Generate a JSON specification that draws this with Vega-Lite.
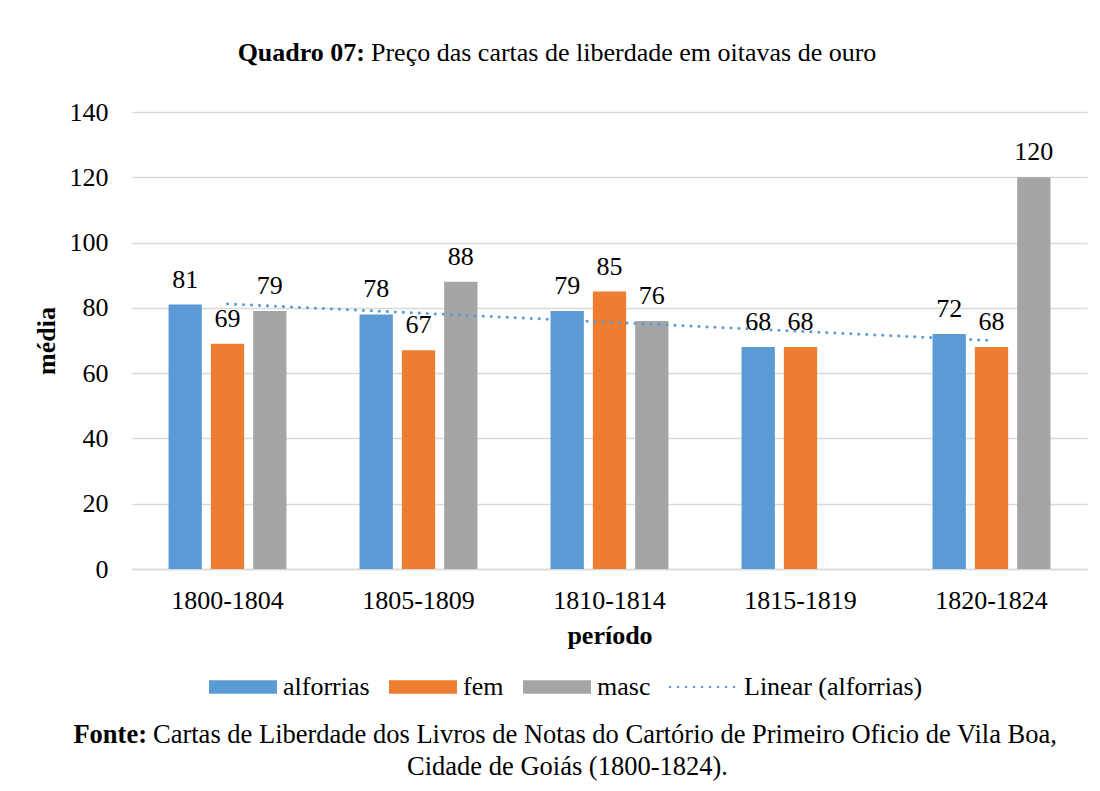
{
  "$schema": "https://vega.github.io/schema/vega-lite/v6.json",
  "background": "white",
  "padding": {"left": 33, "top": 40, "right": 10, "bottom": 5},
  "config": {
    "font": "Liberation Serif",
    "view": {"stroke": null},
    "title": {"font": "Liberation Serif", "fontSize": 26, "fontWeight": "normal", "color": "#000000", "anchor": "middle", "frame": "bounds"},
    "axis": {"labelFontSize": 26, "titleFontSize": 26, "labelColor": "#000000", "titleColor": "#000000", "titleFontWeight": "bold", "titleFont": "Liberation Serif", "labelFont": "Liberation Serif"},
    "legend": {"labelFontSize": 26, "labelColor": "#000000", "labelFont": "Liberation Serif"}
  },
  "datasets": {
    "barras": [
      {"periodo": "1800-1804", "serie": "alforrias", "valor": 81},
      {"periodo": "1800-1804", "serie": "fem", "valor": 69},
      {"periodo": "1800-1804", "serie": "masc", "valor": 79},
      {"periodo": "1805-1809", "serie": "alforrias", "valor": 78},
      {"periodo": "1805-1809", "serie": "fem", "valor": 67},
      {"periodo": "1805-1809", "serie": "masc", "valor": 88},
      {"periodo": "1810-1814", "serie": "alforrias", "valor": 79},
      {"periodo": "1810-1814", "serie": "fem", "valor": 85},
      {"periodo": "1810-1814", "serie": "masc", "valor": 76},
      {"periodo": "1815-1819", "serie": "alforrias", "valor": 68},
      {"periodo": "1815-1819", "serie": "fem", "valor": 68},
      {"periodo": "1820-1824", "serie": "alforrias", "valor": 72},
      {"periodo": "1820-1824", "serie": "fem", "valor": 68},
      {"periodo": "1820-1824", "serie": "masc", "valor": 120}
    ],
    "tendencia": [
      {"periodo": "1800-1804", "serie": "Linear (alforrias)", "valor": 81.2},
      {"periodo": "1805-1809", "serie": "Linear (alforrias)", "valor": 78.4},
      {"periodo": "1810-1814", "serie": "Linear (alforrias)", "valor": 75.6},
      {"periodo": "1815-1819", "serie": "Linear (alforrias)", "valor": 72.8},
      {"periodo": "1820-1824", "serie": "Linear (alforrias)", "valor": 70.0}
    ]
  },
  "title": {"text": "Cidade de Goiás (1800-1824).", "orient": "bottom", "anchor": "middle", "fontSize": 26.5, "offset": 5, "dx": 7.5},
  "vconcat": [{
    "title": {"text": "Cartas de Liberdade dos Livros de Notas do Cartório de Primeiro Oficio de Vila Boa,", "orient": "bottom", "anchor": "middle", "align": "left", "fontSize": 26.5, "dx": -407, "offset": -26.5},
    "vconcat": [{
      "title": {"text": "Fonte:", "orient": "bottom", "anchor": "middle", "align": "right", "fontWeight": "bold", "fontSize": 26.5, "dx": -413, "offset": 74},
      "vconcat": [{
        "title": {"text": "Quadro 07:", "anchor": "middle", "align": "right", "fontWeight": "bold", "dx": -195, "offset": -26},
        "vconcat": [{
          "width": 955,
          "height": 457,
          "title": {"text": "Preço das cartas de liberdade em oitavas de ouro", "anchor": "middle", "align": "left", "dx": -189, "offset": 33},
          "layer": [
            {
              "data": {"name": "barras"},
              "mark": {"type": "bar"},
              "encoding": {
                "x": {"field": "periodo", "type": "nominal", "title": "período",
                      "scale": {"paddingInner": 0, "paddingOuter": 0},
                      "axis": {"labelAngle": 0, "domain": true, "domainColor": "#D9D9D9", "domainWidth": 1.3, "ticks": false, "tickSize": 0, "labelPadding": 18, "titlePadding": 9, "grid": false}},
                "xOffset": {"field": "serie", "type": "nominal", "scale": {"domain": ["alforrias", "fem", "masc"], "paddingInner": 0.213, "paddingOuter": 0.864}},
                "y": {"field": "valor", "type": "quantitative", "title": "média",
                      "scale": {"domain": [0, 140], "nice": false},
                      "axis": {"values": [0, 20, 40, 60, 80, 100, 120, 140], "grid": true, "gridColor": "#D9D9D9", "gridWidth": 1.3, "domain": false, "ticks": false, "tickSize": 0, "labelPadding": 24, "titlePadding": 10}},
                "color": {"field": "serie", "type": "nominal",
                          "scale": {"domain": ["alforrias", "fem", "masc", "Linear (alforrias)"], "range": ["#5B9BD5", "#ED7D31", "#A5A5A5", "#5B9BD5"]},
                          "legend": {
                            "orient": "none", "legendX": 71, "legendY": 562, "direction": "horizontal", "title": null,
                            "symbolSize": 196, "symbolStrokeWidth": 0, "labelOffset": 54, "columnPadding": 13, "labelLimit": 400, "padding": 0,
                            "encode": {
                              "symbols": {
                                "update": {
                                  "shape": {"signal": "datum.value === 'Linear (alforrias)' ? 'M-1,0H8.714' : 'M-1,-0.95H8.714V0.95H-1Z'"},
                                  "fill": {"signal": "datum.value === 'alforrias' ? '#5B9BD5' : datum.value === 'fem' ? '#ED7D31' : datum.value === 'masc' ? '#A5A5A5' : 'transparent'"},
                                  "stroke": {"signal": "datum.value === 'Linear (alforrias)' ? '#5B9BD5' : 'transparent'"},
                                  "strokeWidth": {"signal": "datum.value === 'Linear (alforrias)' ? 2.5 : 0"},
                                  "strokeDash": {"value": [0.1, 7.9]},
                                  "strokeCap": {"value": "round"},
                                  "opacity": {"value": 1},
                                  "size": {"value": 196}
                                }
                              }
                            }
                          }}
              }
            },
            {
              "data": {"name": "tendencia"},
              "mark": {"type": "line", "strokeDash": [0.1, 7.9], "strokeWidth": 3, "strokeCap": "round"},
              "encoding": {
                "x": {"field": "periodo", "type": "nominal"},
                "y": {"field": "valor", "type": "quantitative"},
                "color": {"field": "serie", "type": "nominal"}
              }
            },
            {
              "data": {"name": "barras"},
              "mark": {"type": "text", "baseline": "alphabetic", "dy": -17, "fontSize": 26, "font": "Liberation Serif", "color": "#000000"},
              "encoding": {
                "x": {"field": "periodo", "type": "nominal"},
                "xOffset": {"field": "serie", "type": "nominal"},
                "y": {"field": "valor", "type": "quantitative"},
                "text": {"field": "valor", "type": "quantitative"}
              }
            }
          ]
        }]
      }]
    }]
  }]
}
